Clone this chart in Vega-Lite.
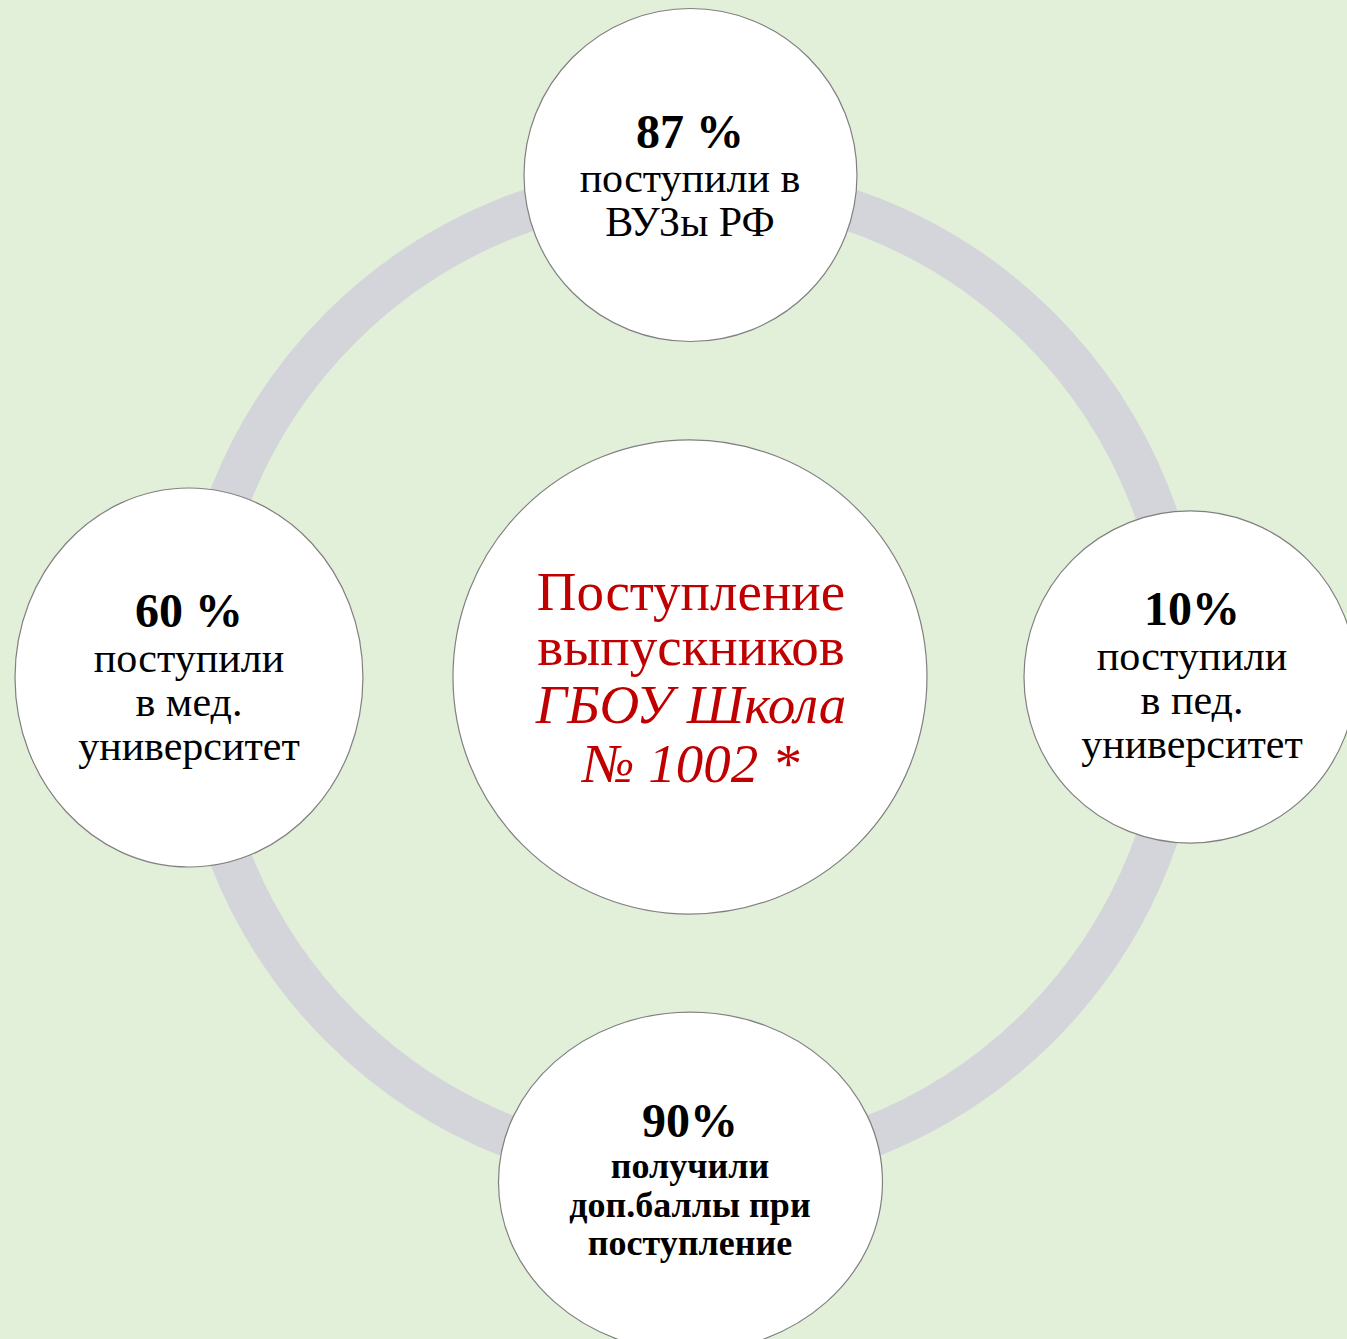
{
  "$schema": "https://vega.github.io/schema/vega-lite/v6.json",
  "width": 1347,
  "height": 1339,
  "padding": 0,
  "autosize": {"type": "none"},
  "background": "#E2EFD9",
  "config": {"view": {"stroke": null}},
  "datasets": {
    "nodes": [
      {"node": "center", "u": 0.002, "v": -0.003},
      {"node": "top", "u": 0.003, "v": -1.0},
      {"node": "left", "u": -0.998, "v": -0.002},
      {"node": "right", "u": 1.0, "v": -0.003},
      {"node": "bottom", "u": 0.003, "v": 1.0}
    ],
    "lines": [
      {"node": "top", "style": "pct", "text": "87 %", "u": 0.002, "v": -1.0536},
      {"node": "top", "style": "body", "text": "поступили в", "u": 0.002, "v": -0.9662},
      {"node": "top", "style": "body", "text": "ВУЗы РФ", "u": 0.002, "v": -0.8789},
      {"node": "left", "style": "pct", "text": "60 %", "u": -0.998, "v": -0.1023},
      {"node": "left", "style": "body", "text": "поступили", "u": -0.998, "v": -0.0129},
      {"node": "left", "style": "body", "text": "в мед.", "u": -0.998, "v": 0.0745},
      {"node": "left", "style": "body", "text": "университет", "u": -0.998, "v": 0.1619},
      {"node": "right", "style": "pct", "text": "10%", "u": 1.004, "v": -0.1063},
      {"node": "right", "style": "body", "text": "поступили", "u": 1.004, "v": -0.0169},
      {"node": "right", "style": "body", "text": "в пед.", "u": 1.004, "v": 0.0705},
      {"node": "right", "style": "body", "text": "университет", "u": 1.004, "v": 0.1579},
      {"node": "bottom", "style": "pct", "text": "90%", "u": 0.002, "v": 0.9106},
      {"node": "bottom", "style": "bodybold", "text": "получили", "u": 0.002, "v": 0.9921},
      {"node": "bottom", "style": "bodybold", "text": "доп.баллы при", "u": 0.002, "v": 1.0695},
      {"node": "bottom", "style": "bodybold", "text": "поступление", "u": 0.002, "v": 1.145},
      {"node": "center", "style": "title", "text": "Поступление", "u": 0.004, "v": -0.136},
      {"node": "center", "style": "title", "text": "выпускников", "u": 0.004, "v": -0.0268},
      {"node": "center", "style": "titleit", "text": "ГБОУ Школа", "u": 0.004, "v": 0.0884},
      {"node": "center", "style": "titleit", "text": "№ 1002 *", "u": 0.004, "v": 0.2056}
    ]
  },
  "encoding": {
    "x": {"field": "u", "type": "quantitative", "axis": null, "scale": {"domain": [-1.3752, 1.3134], "nice": false, "zero": false}},
    "y": {"field": "v", "type": "quantitative", "axis": null, "scale": {"domain": [-1.3476, 1.3118], "reverse": true, "nice": false, "zero": false}}
  },
  "layer": [
    {
      "data": {"name": "nodes"},
      "transform": [{"filter": "datum.node === 'center'"}],
      "mark": {"type": "point", "shape": "circle", "filled": false, "size": 976144, "stroke": "#D4D5DA", "strokeWidth": 42, "opacity": 1, "strokeOpacity": 1}
    },
    {
      "data": {"name": "nodes"},
      "mark": {"type": "point", "filled": true, "fill": "#FFFFFF", "stroke": "#808080", "strokeWidth": 1.2, "opacity": 1, "fillOpacity": 1, "strokeOpacity": 1},
      "encoding": {
        "shape": {"field": "node", "type": "nominal", "legend": null, "scale": {"type": "ordinal", "domain": ["center", "top", "left", "right", "bottom"], "range": ["circle", "circle", "M -0.918 0 A 0.918 1 0 1 1 0.918 0 A 0.918 1 0 1 1 -0.918 0 Z", "circle", "M -1 0 A 1 0.885 0 1 1 1 0 A 1 0.885 0 1 1 -1 0 Z"]}},
        "size": {"field": "node", "type": "nominal", "legend": null, "scale": {"type": "ordinal", "domain": ["center", "top", "left", "right", "bottom"], "range": [224676, 110889, 143641, 110224, 147456]}}
      }
    },
    {
      "data": {"name": "lines"},
      "transform": [{"filter": "datum.style === 'pct'"}],
      "mark": {"type": "text", "font": "Liberation Serif", "fontWeight": "bold", "fontSize": 48, "align": "center", "baseline": "alphabetic", "fill": "#000000"},
      "encoding": {"text": {"field": "text", "type": "nominal"}}
    },
    {
      "data": {"name": "lines"},
      "transform": [{"filter": "datum.style === 'body'"}],
      "mark": {"type": "text", "font": "Liberation Serif", "fontSize": 42, "align": "center", "baseline": "alphabetic", "fill": "#000000"},
      "encoding": {"text": {"field": "text", "type": "nominal"}}
    },
    {
      "data": {"name": "lines"},
      "transform": [{"filter": "datum.style === 'bodybold'"}],
      "mark": {"type": "text", "font": "Liberation Serif", "fontWeight": "bold", "fontSize": 36, "align": "center", "baseline": "alphabetic", "fill": "#000000"},
      "encoding": {"text": {"field": "text", "type": "nominal"}}
    },
    {
      "data": {"name": "lines"},
      "transform": [{"filter": "datum.style === 'title'"}],
      "mark": {"type": "text", "font": "Liberation Serif", "fontSize": 55, "align": "center", "baseline": "alphabetic", "fill": "#C00000"},
      "encoding": {"text": {"field": "text", "type": "nominal"}}
    },
    {
      "data": {"name": "lines"},
      "transform": [{"filter": "datum.style === 'titleit'"}],
      "mark": {"type": "text", "font": "Liberation Serif", "fontStyle": "italic", "fontSize": 55, "align": "center", "baseline": "alphabetic", "fill": "#C00000"},
      "encoding": {"text": {"field": "text", "type": "nominal"}}
    }
  ]
}
